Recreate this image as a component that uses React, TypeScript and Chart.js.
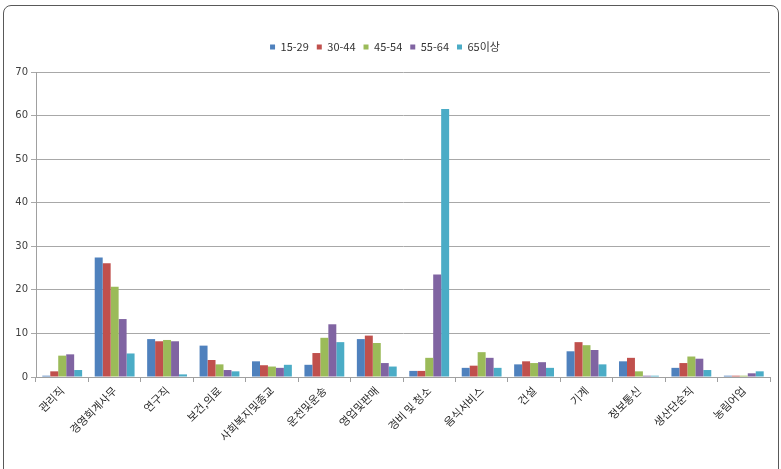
import React, { useEffect, useRef } from "react";
import { Chart, registerables } from "chart.js";

Chart.register(...registerables);

// Occupational categories along the x axis
const categories = [
  "관리직",
  "경영회계사무",
  "연구직",
  "보건,의료",
  "사회복지및종교",
  "운전및운송",
  "영업및판매",
  "경비 및 청소",
  "음식서비스",
  "건설",
  "기계",
  "정보통신",
  "생산단순직",
  "농림어업",
];

// Age-group series (%)
const age15to29 = [0.3, 27.4, 8.7, 7.2, 3.6, 2.8, 8.7, 1.4, 2.1, 2.9, 5.9, 3.6, 2.1, 0.3];
const age30to44 = [1.3, 26.1, 8.2, 3.9, 2.7, 5.5, 9.5, 1.4, 2.6, 3.6, 8.0, 4.4, 3.2, 0.3];
const age45to54 = [4.9, 20.7, 8.5, 2.9, 2.4, 9.0, 7.8, 4.4, 5.7, 3.2, 7.3, 1.3, 4.7, 0.3];
const age55to64 = [5.2, 13.3, 8.2, 1.6, 2.1, 12.1, 3.2, 23.5, 4.4, 3.4, 6.2, 0.3, 4.2, 0.85];
const age65plus = [1.6, 5.4, 0.6, 1.3, 2.8, 8.0, 2.4, 61.5, 2.1, 2.1, 2.9, 0.3, 1.6, 1.3];

const seriesLabels = ["15-29", "30-44", "45-54", "55-64", "65이상"];
const seriesColors = ["#4F81BD", "#C0504D", "#9BBB59", "#8064A2", "#4BACC6"];

const yMin = 0;
const yMax = 70;
const yStep = 10;

const W = 781;
const H = 469;

export default function App() {
  const canvasRef = useRef<HTMLCanvasElement | null>(null);

  useEffect(() => {
    const canvas = canvasRef.current;
    if (!canvas) return;
    const values = [age15to29, age30to44, age45to54, age55to64, age65plus];
    const chart = new Chart(canvas, {
      type: "bar",
      data: {
        labels: categories,
        datasets: values.map((v, i) => ({
          label: seriesLabels[i],
          data: v,
          backgroundColor: seriesColors[i],
          borderWidth: 0,
          categoryPercentage: 0.76,
          barPercentage: 1,
        })),
      },
      options: {
        animation: false,
        responsive: false,
        devicePixelRatio: 1,
        layout: { padding: { top: 33.5, right: 11, bottom: 0, left: 0 } },
        plugins: {
          tooltip: { enabled: false },
          legend: {
            position: "top",
            labels: {
              boxWidth: 5,
              boxHeight: 5,
              padding: 8,
              color: "#333333",
              font: { family: '"Noto Sans CJK KR", sans-serif', size: 11 },
            },
          },
          title: {
            display: true,
            text: " ",
            weight: 500,
            font: { size: 9.5, lineHeight: 1 },
            padding: { top: 0, bottom: 0 },
          },
        },
        scales: {
          x: {
            afterFit: (scale: any) => {
              scale.height = H - 377;
            },
            grid: {
              display: true,
              offset: true,
              drawOnChartArea: false,
              drawTicks: true,
              tickLength: 5,
              color: "#a0a0a0",
            },
            border: { display: true, color: "#a0a0a0", width: 1 },
            ticks: {
              autoSkip: false,
              maxRotation: 45,
              minRotation: 45,
              padding: 2,
              color: "#2b2b2b",
              font: { family: '"Noto Sans CJK KR", sans-serif', size: 11 },
            },
          },
          y: {
            min: yMin,
            max: yMax,
            afterFit: (scale: any) => {
              scale.width = 36;
            },
            grid: {
              color: "#a8a8a8",
              lineWidth: 1,
              drawTicks: true,
              tickLength: 5,
            },
            border: { display: true, color: "#a0a0a0", width: 1 },
            ticks: {
              stepSize: yStep,
              padding: 3,
              color: "#404040",
              font: { family: '"DejaVu Sans", sans-serif', size: 10 },
            },
          },
        },
      },
    });
    return () => chart.destroy();
  }, []);

  return (
    <div
      style={{
        position: "fixed",
        left: 0,
        top: 0,
        width: W,
        height: H,
        background: "#ffffff",
        overflow: "hidden",
      }}
    >
      <canvas ref={canvasRef} width={W} height={H} style={{ display: "block" }} />
      <div
        style={{
          position: "absolute",
          left: 3,
          top: 5,
          width: 774,
          height: 480,
          border: "1px solid #595959",
          borderRadius: 8,
          pointerEvents: "none",
        }}
      />
    </div>
  );
}
